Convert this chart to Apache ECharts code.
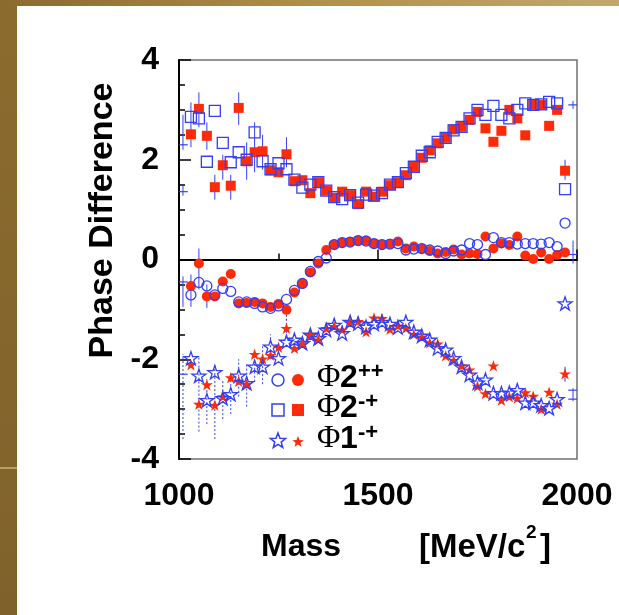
<!DOCTYPE html>
<html>
<head>
<meta charset="utf-8">
<script src="https://cdn.jsdelivr.net/npm/echarts@6/dist/echarts.min.js"></script>
<style>
  html, body { margin: 0; padding: 0; background: #ffffff; }
  #chart { width: 619px; height: 615px; }
</style>
</head>
<body>
<div id="chart"></div>
<script>
// Mass bin centres (MeV/c^2)
const masses = [1030, 1050, 1070, 1090, 1110, 1130, 1150, 1170, 1190, 1210,
  1230, 1250, 1270, 1290, 1310, 1330, 1350, 1370, 1390, 1410,
  1430, 1450, 1470, 1490, 1510, 1530, 1550, 1570, 1590, 1610,
  1630, 1650, 1670, 1690, 1710, 1730, 1750, 1770, 1790, 1810,
  1830, 1850, 1870, 1890, 1910, 1930, 1950, 1970];

// Phase differences, solution A (filled red) and solution B (open blue)
const phi2ppA = [-0.53, -0.08, -0.74, -0.74, -0.44, -0.29, -0.88, -0.87, -0.85, -0.88,
  -0.95, -0.89, -1.01, -0.66, -0.48, -0.26, -0.08, 0.19, 0.30, 0.34,
  0.35, 0.38, 0.38, 0.32, 0.30, 0.31, 0.36, 0.22, 0.26, 0.22,
  0.17, 0.12, 0.15, 0.20, 0.10, 0.12, 0.11, 0.46, 0.22, 0.32,
  0.29, 0.46, 0.08, 0.01, 0.14, 0.01, 0.09, 0.14];
const phi2ppB = [-0.71, -0.46, -0.53, -0.71, -0.58, -0.64, -0.85, -0.85, -0.88, -0.95,
  -0.98, -0.93, -0.80, -0.62, -0.48, -0.24, -0.04, 0.03, 0.30, 0.34,
  0.35, 0.38, 0.37, 0.32, 0.30, 0.31, 0.32, 0.19, 0.21, 0.22,
  0.19, 0.17, 0.12, 0.17, 0.19, 0.32, 0.30, 0.10, 0.44, 0.34,
  0.34, 0.31, 0.32, 0.32, 0.31, 0.34, 0.26, 0.73];
const phi2mpA = [2.51, 3.02, 2.48, 1.45, 1.89, 1.48, 3.04, 1.97, 2.15, 2.17,
  1.79, 1.75, 2.11, 1.57, 1.59, 1.33, 1.55, 1.38, 1.24, 1.36,
  1.29, 1.11, 1.36, 1.26, 1.36, 1.49, 1.55, 1.69, 1.86, 2.04,
  2.19, 2.33, 2.44, 2.61, 2.66, 2.80, 2.96, 2.63, 2.36, 2.58,
  3.00, 2.83, 2.49, 3.10, 3.10, 2.68, 3.00, 1.78];
const phi2mpB = [2.86, 2.83, 1.96, 2.98, 2.34, 1.95, 2.15, 2.00, 2.55, 1.97,
  1.81, 1.93, 1.81, 1.60, 1.44, 1.50, 1.55, 1.38, 1.25, 1.21,
  1.29, 1.14, 1.30, 1.28, 1.33, 1.50, 1.55, 1.73, 1.86, 2.08,
  2.15, 2.36, 2.44, 2.59, 2.66, 2.83, 3.00, 2.90, 3.08, 2.90,
  2.83, 3.00, 3.13, 3.10, 3.11, 3.16, 3.13, 1.41];
const phi1mpA = [-2.11, -2.90, -2.51, -2.92, -2.75, -2.37, -2.44, -2.50, -1.90, -1.99,
  -1.92, -1.76, -1.38, -1.78, -1.69, -1.51, -1.61, -1.38, -1.34, -1.41,
  -1.26, -1.24, -1.45, -1.17, -1.18, -1.40, -1.33, -1.38, -1.50, -1.55,
  -1.67, -1.69, -1.93, -2.02, -2.13, -2.21, -2.54, -2.69, -2.13, -2.82,
  -2.75, -2.78, -2.67, -2.74, -3.00, -2.66, -2.90, -2.29];
const phi1mpB = [-1.98, -2.33, -2.82, -2.26, -2.78, -2.70, -2.33, -2.48, -2.15, -2.15,
  -1.75, -1.98, -1.65, -1.61, -1.68, -1.51, -1.58, -1.41, -1.31, -1.48,
  -1.25, -1.28, -1.35, -1.29, -1.25, -1.29, -1.36, -1.25, -1.45, -1.53,
  -1.61, -1.78, -1.81, -1.98, -2.15, -2.31, -2.47, -2.41, -2.68, -2.68,
  -2.67, -2.62, -2.87, -2.87, -2.92, -2.98, -2.80, -0.88];

// Error bars [mass, low, high]
const errSolid = [
  [1010, 2.20, 2.90], [1010, 1.28, 1.48], [1010, -0.95, -0.34],
  [1030, 2.25, 3.15], [1050, 2.65, 3.35], [1070, 2.20, 2.75], [1090, 1.20, 1.70],
  [1110, 1.60, 2.10], [1130, 1.20, 1.70], [1150, 2.70, 3.35], [1170, 1.60, 2.35],
  [1190, 1.75, 2.75], [1210, 1.80, 2.50], [1270, 1.85, 2.45],
  [1030, -0.95, -0.30], [1050, -0.60, 0.22], [1070, -0.97, -0.50],
  [1970, 1.60, 2.00], [1970, -2.45, -2.15],
  [1990, 3.02, 3.18], [1990, -0.08, 0.38], [1990, -2.84, -2.58]
];
const errDotted = [
  [1010, -3.60, -1.90], [1050, -3.45, -1.95], [1070, -3.30, -2.40],
  [1090, -3.60, -2.10], [1110, -3.20, -2.40], [1130, -3.10, -2.40],
  [1150, -2.75, -2.00], [1170, -2.95, -2.10], [1190, -2.45, -1.90],
  [1210, -2.50, -1.70], [1230, -2.00, -1.50], [1270, -1.55, -1.10]
];
// Bin-width markers for edge bins without a symbol [mass, value]
const binMarks = [[1990, 3.10], [1990, 0.10], [1990, -2.62], [1990, -2.80],
  [1010, 2.30], [1010, 1.36], [1010, -0.45], [1010, -2.30]];

const yTicks = [-4, -2, 0, 2, 4];
const xTicks = [1000, 1500, 2000];

// Legend entries: Greek letter, spin digit, superscript quantum numbers
const legendNames = [['Φ', '2', '++'], ['Φ', '2', '-+'], ['Φ', '1', '-+']];

const BLUE = '#3340f2';
const RED = '#ff2a08';
const STAR = 'path://M50,2 L61.8,37.6 L99,37.6 L69,59.6 L80.4,95 L50,73 L19.6,95 L31,59.6 L1,37.6 L38.2,37.6 Z';

const pair = ys => masses.map((m, i) => [m, ys[i]]);

function errorSeries(data, dashed) {
  return {
    type: 'custom',
    silent: true,
    z: 1,
    data: data,
    renderItem: (params, api) => {
      const a = api.coord([api.value(0), api.value(1)]);
      const b = api.coord([api.value(0), api.value(2)]);
      return {
        type: 'line',
        shape: { x1: a[0], y1: a[1], x2: b[0], y2: b[1] },
        style: { stroke: BLUE, lineWidth: 1, lineDash: dashed ? [2, 2] : null }
      };
    }
  };
}

const binSeries = {
  type: 'custom',
  silent: true,
  z: 1,
  data: binMarks,
  renderItem: (params, api) => {
    const m = api.value(0), v = api.value(1);
    const a = api.coord([Math.max(1000, m - 12), v]);
    const b = api.coord([Math.min(2000, m + 12), v]);
    return {
      type: 'line',
      shape: { x1: a[0], y1: a[1], x2: b[0], y2: b[1] },
      style: { stroke: BLUE, lineWidth: 1.2 }
    };
  }
};

function filled(name, ys, symbol, size) {
  return {
    name, type: 'scatter', data: pair(ys), symbol, symbolSize: size,
    symbolKeepAspect: true, z: 2,
    itemStyle: { color: RED, opacity: 1 }
  };
}
function open(name, ys, symbol, size) {
  return {
    name, type: 'scatter', data: pair(ys), symbol, symbolSize: size,
    symbolKeepAspect: true, z: 3,
    itemStyle: { color: 'rgba(255,255,255,0)', borderColor: BLUE, borderWidth: 1.3, opacity: 1 }
  };
}

// Five-pointed star outline for the legend keys
function starPoints(cx, cy, r) {
  const pts = [];
  for (let k = 0; k < 10; k++) {
    const rr = k % 2 === 0 ? r : r * 0.42;
    const ang = -Math.PI / 2 + k * Math.PI / 5;
    pts.push([cx + rr * Math.cos(ang), cy + rr * Math.sin(ang)]);
  }
  return pts;
}

// Legend block
const legendRowY = [380, 410, 441];
const keyOpenX = 278, keyFillX = 298, textX = 317;
const legendGraphics = [];
legendRowY.forEach((y, i) => {
  if (i === 0) {
    legendGraphics.push({ type: 'circle', shape: { cx: keyOpenX, cy: y, r: 6 },
      style: { fill: 'none', stroke: BLUE, lineWidth: 1.5 } });
    legendGraphics.push({ type: 'circle', shape: { cx: keyFillX, cy: y, r: 6 },
      style: { fill: RED } });
  } else if (i === 1) {
    legendGraphics.push({ type: 'rect', shape: { x: keyOpenX - 6, y: y - 6, width: 12, height: 12 },
      style: { fill: 'none', stroke: BLUE, lineWidth: 1.5 } });
    legendGraphics.push({ type: 'rect', shape: { x: keyFillX - 6, y: y - 6, width: 12, height: 12 },
      style: { fill: RED } });
  } else {
    legendGraphics.push({ type: 'polygon', shape: { points: starPoints(keyOpenX, y, 8) },
      style: { fill: 'none', stroke: BLUE, lineWidth: 1.5 } });
    legendGraphics.push({ type: 'polygon', shape: { points: starPoints(keyFillX, y + 1, 6) },
      style: { fill: RED } });
  }
  const [g, d, s] = legendNames[i];
  legendGraphics.push({ type: 'text', x: textX, y: y - 18,
    style: { text: g, font: '32px "Liberation Serif"', fill: '#000' } });
  legendGraphics.push({ type: 'text', x: textX + 23, y: y - 18,
    style: { text: d, font: 'bold 32px "Liberation Sans"', fill: '#000' } });
  legendGraphics.push({ type: 'text', x: textX + 41, y: y - 19,
    style: { text: s, font: 'bold 22px "Liberation Sans"', fill: '#000' } });
});

const chart = echarts.init(document.getElementById('chart'), null, { renderer: 'canvas' });
chart.setOption({
  backgroundColor: '#ffffff',
  animation: false,
  graphic: [
    {
      type: 'rect', z: -10, left: 0, top: 0,
      shape: { width: 17, height: 615 },
      style: { fill: new echarts.graphic.LinearGradient(0, 0, 0, 1, [
        { offset: 0, color: '#8c6b2e' }, { offset: 1, color: '#7f622b' }]) }
    },
    {
      type: 'rect', z: -10, left: 0, top: 0,
      shape: { width: 619, height: 6 },
      style: { fill: new echarts.graphic.LinearGradient(0, 0, 1, 0, [
        { offset: 0, color: '#8a6a2e' }, { offset: 0.55, color: '#b3924c' },
        { offset: 1, color: '#c2a66c' }]) }
    },
    {
      type: 'rect', z: -9, left: 0, top: 467,
      shape: { width: 17, height: 2 },
      style: { fill: '#b49c62' }
    },
    {
      type: 'text', x: 261, y: 531,
      style: { text: 'Mass', font: 'bold 32px "Liberation Sans"', fill: '#000' }
    },
    {
      type: 'text', x: 419, y: 531,
      style: { text: '[MeV/c', font: 'bold 33px "Liberation Sans"', fill: '#000' }
    },
    {
      type: 'text', x: 526, y: 523,
      style: { text: '2', font: 'bold 19px "Liberation Sans"', fill: '#000' }
    },
    {
      type: 'text', x: 540, y: 531,
      style: { text: ']', font: 'bold 33px "Liberation Sans"', fill: '#000' }
    },
    { type: 'group', z: 50, children: legendGraphics }
  ],
  grid: {
    left: 179, top: 60, width: 398, height: 399,
    show: true, borderColor: '#707070', borderWidth: 1.5, backgroundColor: 'transparent'
  },
  xAxis: {
    type: 'value', min: xTicks[0], max: xTicks[xTicks.length - 1], interval: 500,
    axisLine: { lineStyle: { color: '#000', width: 2 } },
    axisTick: { inside: true, length: 10, lineStyle: { color: '#000', width: 1.5 } },
    minorTick: { show: true, splitNumber: 2, length: 6, lineStyle: { color: '#000', width: 1.5 } },
    splitLine: { show: false },
    axisLabel: { margin: 21, color: '#000', fontFamily: 'Liberation Sans', fontWeight: 'bold', fontSize: 32,
      formatter: v => String(v) }
  },
  yAxis: {
    type: 'value', min: yTicks[0], max: yTicks[yTicks.length - 1], interval: 2,
    name: 'Phase Difference', nameLocation: 'middle', nameRotate: 90, nameGap: 43,
    nameTextStyle: { color: '#000', fontFamily: 'Liberation Sans', fontWeight: 'bold', fontSize: 34, padding: [0, 0, 0, 78] },
    axisLine: { lineStyle: { color: '#000', width: 2 } },
    axisTick: { inside: true, length: 12, lineStyle: { color: '#000', width: 1.5 } },
    minorTick: { show: true, splitNumber: 4, length: 6, lineStyle: { color: '#000', width: 1.5 } },
    splitLine: { show: false },
    axisLabel: { margin: 20, color: '#000', fontFamily: 'Liberation Sans', fontWeight: 'bold', fontSize: 32,
      formatter: v => String(v) }
  },
  series: [
    errorSeries(errSolid, false),
    errorSeries(errDotted, true),
    binSeries,
    filled('Φ2-+', phi2mpA, 'rect', 10),
    filled('Φ2++', phi2ppA, 'circle', 10),
    filled('Φ1-+', phi1mpA, STAR, 12),
    open('Φ2-+ B', phi2mpB, 'rect', 11),
    open('Φ2++ B', phi2ppB, 'circle', 10),
    open('Φ1-+ B', phi1mpB, STAR, 14)
  ]
});
</script>
</body>
</html>
